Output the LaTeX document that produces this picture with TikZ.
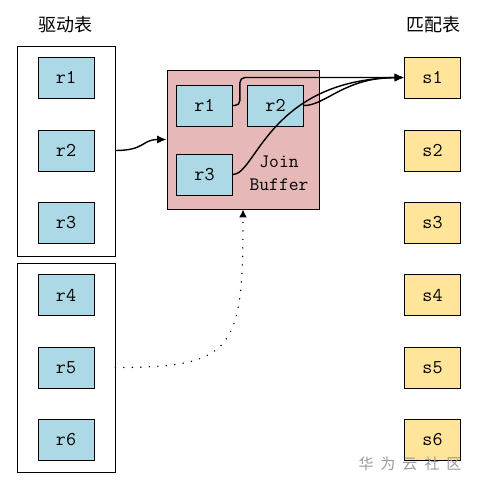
\documentclass[tikz,border=0pt]{standalone}
\usepackage{fontspec}
\usepackage{xcolor}
\usepackage{tikz}
\usetikzlibrary{calc}
\usetikzlibrary {arrows.meta}
\newfontfamily\cjk{Noto Sans CJK SC}
\definecolor{Crow}{HTML}{ADD8E6}
\definecolor{Cmatch}{HTML}{FFE599}
\definecolor{Cbuf}{HTML}{E6B8B7}
\definecolor{Cmark}{HTML}{9A9A9A}

\begin{document}
\begin{tikzpicture}[x=1pt, y=-1pt,
  rowbox/.style={draw, line width=0.8pt, fill=Crow, minimum width=56pt, minimum height=41pt, inner sep=0pt, font=\ttfamily\fontsize{19.5}{21}\selectfont},
  matchbox/.style={rowbox, fill=Cmatch},
  tablebox/.style={draw, line width=0.8pt, inner sep=0pt, minimum width=98pt},
  conn/.style={-{Latex[length=3.3mm, width=2.8mm]}, line width=1.4pt},
  title/.style={font=\cjk\fontsize{18}{20}\selectfont}]
\useasboundingbox (0,0) rectangle (477,490);
%
\node[title] (drvtitle) at (65,25) {驱动表};
\node[title] (mattitle) at (433,25) {匹配表};
%
\node[tablebox, minimum height=210pt] (drv1) at (66,151) {};
\node[tablebox, minimum height=209pt] (drv2) at (66,367.5) {};
\node[rowbox] (r1) at (66,77.5) {r1};
\node[rowbox] (r2) at (66,150.5) {r2};
\node[rowbox] (r3) at (66,222.5) {r3};
\node[rowbox] (r4) at (66,295) {r4};
\node[rowbox] (r5) at (66,367.5) {r5};
\node[rowbox] (r6) at (66,439.5) {r6};
%
\node[matchbox] (s1) at (432.5,77.5) {s1};
\node[matchbox] (s2) at (432.5,150.5) {s2};
\node[matchbox] (s3) at (432.5,222.5) {s3};
\node[matchbox] (s4) at (432.5,295) {s4};
\node[matchbox] (s5) at (432.5,367.5) {s5};
\node[matchbox] (s6) at (432.5,439.5) {s6};
%
\node[draw, line width=0.8pt, fill=Cbuf, minimum width=152pt, minimum height=139pt] (buf) at (243,139.5) {};
\node[rowbox] (jr1) at (204.5,105.5) {r1};
\node[rowbox] (jr2) at (275.5,105.5) {r2};
\node[rowbox] (jr3) at (204.5,174.5) {r3};
\node[align=center, inner sep=0pt, font=\ttfamily\fontsize{19}{23}\selectfont] (buflabel) at (279,173) {Join\\Buffer};
%
\draw[conn] (drv1.east |- r2) .. controls +(30,0) and +(-25,0) .. (buf.west);
\draw[conn, rounded corners=5pt] (jr1.east) -- ++(7,0) |- (s1.west);
\draw[conn] (jr2.east) .. controls +(22,0) and +(-60,0) .. (s1.west);
\draw[conn] (jr3.east) .. controls +(23,0) and +(-135,2.5) .. (s1.west);
\draw[-{Latex[length=2.8mm, width=2.8mm]}, line width=1.6pt, dash pattern=on 0pt off 8.5pt, line cap=round] (drv2.east |- r5) .. controls +(120,0) and +(0,140) .. (buf.south);
%
\node[text=Cmark, font=\cjk\fontsize{15}{16}\selectfont] (mark) at (410,464) {华\hspace{7pt}为\hspace{7pt}云\hspace{7pt}社\hspace{7pt}区};
\end{tikzpicture}
\end{document}
